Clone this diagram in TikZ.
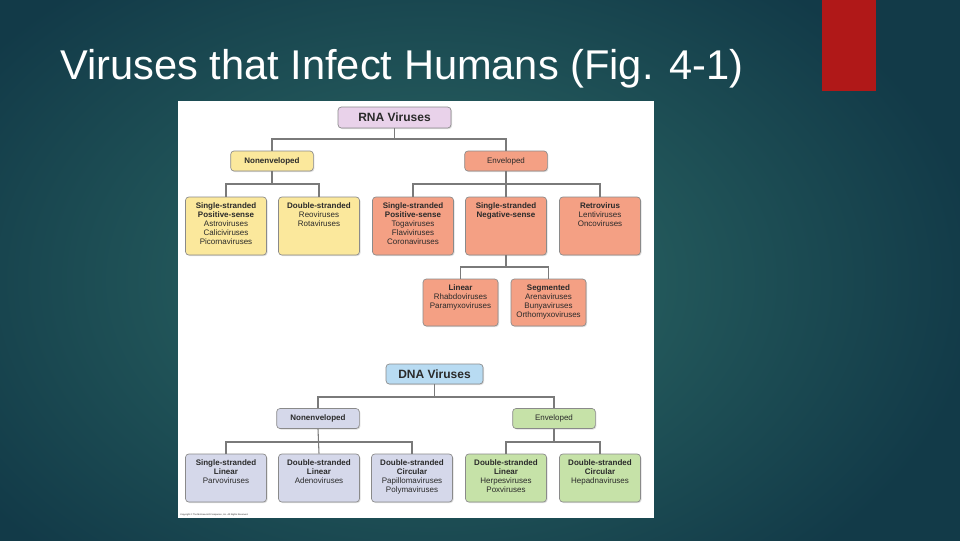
\documentclass[tikz,border=0pt]{standalone}
\usepackage{fontspec}
\setmainfont{Liberation Sans}
\usetikzlibrary{shadows}
\definecolor{bgdark}{HTML}{123A48}
\definecolor{bgmid}{HTML}{2E6C67}
\definecolor{redbar}{HTML}{B01818}
\definecolor{rnac}{HTML}{E9D2EA}
\definecolor{yelc}{HTML}{FBE89C}
\definecolor{salc}{HTML}{F4A084}
\definecolor{dnac}{HTML}{B8DBF2}
\definecolor{lavc}{HTML}{D5D8EA}
\definecolor{grnc}{HTML}{C6E2A8}
\definecolor{boxborder}{HTML}{8A8A8A}
\definecolor{conncol}{HTML}{7A7A7A}
\definecolor{txtc}{HTML}{2A2A2A}
\tikzset{
  vbox/.style={draw=boxborder, line width=0.5pt, rounded corners=2.5pt, inner sep=0pt,
    text=txtc, drop shadow={shadow xshift=0.8pt, shadow yshift=-0.8pt, opacity=0.25}},
  rowbox/.style={vbox, minimum width=60.75pt, minimum height=43.5pt},
  dnabox/.style={vbox, minimum width=60.75pt, minimum height=36pt},
  subbox/.style={vbox, minimum width=56.25pt, minimum height=35.25pt},
  midbox/.style={vbox, minimum width=62pt, minimum height=15pt, font=\fontsize{6}{7}\selectfont},
  btxt/.style={inner sep=0pt, align=center, anchor=north, text=txtc, font=\fontsize{6}{6.8}\selectfont},
  conn/.style={draw=conncol, line width=0.8pt}
}
\begin{document}
\begin{tikzpicture}[x=0.75pt,y=-0.75pt]
\useasboundingbox (0,0) rectangle (960,540);
\fill[bgdark] (0,0) rectangle (960,540);
\shade[inner color=bgmid, outer color=bgdark] (-120,-100) rectangle (980,660);
\fill[redbar] (822,0) rectangle (876,91);
\node[anchor=base west, inner sep=0pt, text=white, font=\fontsize{31.2}{36}\selectfont] (title) at (60,79) {Viruses that Infect Humans (Fig. 4-1)};
\fill[white] (178,101) rectangle (654,518);

% coordinates for horizontal rails
\coordinate (y1) at (0,139);
\coordinate (y2) at (0,184);
\coordinate (y3) at (0,267);
\coordinate (y4) at (0,397);
\coordinate (y5) at (0,442);

% RNA tree
\node[vbox, fill=rnac, minimum width=84.75pt, minimum height=15.75pt, font=\bfseries\fontsize{9}{10}\selectfont] (rna) at (394.5,117.5) {RNA Viruses};
\node[midbox, fill=yelc, font=\bfseries\fontsize{6}{7}\selectfont] (rne) at (272,161) {Nonenveloped};
\node[midbox, fill=salc] (ren) at (506,161) {Enveloped};

\node[rowbox, fill=yelc] (A) at (226,226) {};
\node[rowbox, fill=yelc] (B) at (319,226) {};
\node[rowbox, fill=salc] (C) at (413,226) {};
\node[rowbox, fill=salc] (D) at (506,226) {};
\node[rowbox, fill=salc] (E) at (600,226) {};
\node[btxt] (At) at ([yshift=-4pt]A.north) {\textbf{Single-stranded}\\\textbf{Positive-sense}\\Astroviruses\\Caliciviruses\\Picornaviruses};
\node[btxt] (Bt) at ([yshift=-4pt]B.north) {\textbf{Double-stranded}\\Reoviruses\\Rotaviruses};
\node[btxt] (Ct) at ([yshift=-4pt]C.north) {\textbf{Single-stranded}\\\textbf{Positive-sense}\\Togaviruses\\Flaviviruses\\Coronaviruses};
\node[btxt] (Dt) at ([yshift=-4pt]D.north) {\textbf{Single-stranded}\\\textbf{Negative-sense}};
\node[btxt] (Et) at ([yshift=-4pt]E.north) {\textbf{Retrovirus}\\Lentiviruses\\Oncoviruses};

\node[subbox, fill=salc] (F) at (460.5,302.5) {};
\node[subbox, fill=salc] (G) at (548.5,302.5) {};
\node[btxt] (Ft) at ([yshift=-4pt]F.north) {\textbf{Linear}\\Rhabdoviruses\\Paramyxoviruses};
\node[btxt] (Gt) at ([yshift=-4pt]G.north) {\textbf{Segmented}\\Arenaviruses\\Bunyaviruses\\Orthomyxoviruses};

\draw[conn] (rna.south) -- (rna.south |- y1);
\draw[conn] (rne.north) |- (ren.north |- y1) -- (ren.north);
\draw[conn] (rne.south) -- (rne.south |- y2);
\draw[conn] (A.north) |- (B.north |- y2) -- (B.north);
\draw[conn] (ren.south) -- (D.north);
\draw[conn] (C.north) |- (E.north |- y2) -- (E.north);
\draw[conn] (D.south) -- (D.south |- y3);
\draw[conn] (F.north) |- (G.north |- y3) -- (G.north);

% DNA tree
\node[vbox, fill=dnac, minimum width=72.75pt, minimum height=15pt, font=\bfseries\fontsize{9}{10}\selectfont] (dna) at (434.5,374) {DNA Viruses};
\node[midbox, fill=lavc, font=\bfseries\fontsize{6}{7}\selectfont] (dne) at (318,418.5) {Nonenveloped};
\node[midbox, fill=grnc] (den) at (554,418.5) {Enveloped};

\node[dnabox, fill=lavc] (H) at (226,478) {};
\node[dnabox, fill=lavc] (I) at (319,478) {};
\node[dnabox, fill=lavc] (J) at (412,478) {};
\node[dnabox, fill=grnc] (K) at (506,478) {};
\node[dnabox, fill=grnc] (L) at (600,478) {};
\node[btxt] (Ht) at ([yshift=-4pt]H.north) {\textbf{Single-stranded}\\\textbf{Linear}\\Parvoviruses};
\node[btxt] (It) at ([yshift=-4pt]I.north) {\textbf{Double-stranded}\\\textbf{Linear}\\Adenoviruses};
\node[btxt] (Jt) at ([yshift=-4pt]J.north) {\textbf{Double-stranded}\\\textbf{Circular}\\Papillomaviruses\\Polymaviruses};
\node[btxt] (Kt) at ([yshift=-4pt]K.north) {\textbf{Double-stranded}\\\textbf{Linear}\\Herpesviruses\\Poxviruses};
\node[btxt] (Lt) at ([yshift=-4pt]L.north) {\textbf{Double-stranded}\\\textbf{Circular}\\Hepadnaviruses};

\draw[conn] (dna.south) -- (dna.south |- y4);
\draw[conn] (dne.north) |- (den.north |- y4) -- (den.north);
\draw[conn] (dne.south) -- (I.north);
\draw[conn] (H.north) |- (J.north |- y5) -- (J.north);
\draw[conn] (den.south) -- (den.south |- y5);
\draw[conn] (K.north) |- (L.north |- y5) -- (L.north);

\node[anchor=west, inner sep=0pt, text=txtc, font=\fontsize{1.7}{2}\selectfont] (copy) at (180,515) {Copyright © The McGraw-Hill Companies, Inc. All Rights Reserved.};
\end{tikzpicture}
\end{document}
